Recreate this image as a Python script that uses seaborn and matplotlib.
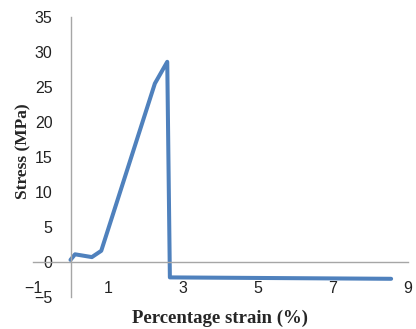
import matplotlib
matplotlib.use("Agg")
import pandas as pd
import seaborn as sns
from matplotlib import pyplot as plt

# strain (%) vs stress (MPa)
strain = [0.0, 0.12, 0.57, 0.82, 2.25, 2.58, 2.65, 8.55]
stress = [0.3, 1.1, 0.7, 1.6, 25.5, 28.6, -2.2, -2.4]

x_ticks = [-1, 1, 3, 5, 7, 9]
y_ticks = [-5, 0, 5, 10, 15, 20, 25, 30, 35]

df = pd.DataFrame({"Strain": strain, "Stress": stress})

sns.set_style("white")
plt.rcParams["font.family"] = ["Liberation Sans", "DejaVu Sans"]

fig = plt.figure(figsize=(4.16, 3.29), dpi=100)
ax = fig.add_axes([33 / 416, (329 - 297) / 329, (408 - 33) / 416, (297 - 17) / 329])

sns.lineplot(data=df, x="Strain", y="Stress", sort=False, color="#4F81BD",
             linewidth=2.9, ax=ax)

ax.set_xlim(-1, 9)
ax.set_ylim(-5, 35)
ax.set_xticks(x_ticks)
ax.set_yticks(y_ticks)

for s in ["top", "right"]:
    ax.spines[s].set_visible(False)
ax.spines["left"].set_position(("data", 0))
ax.spines["bottom"].set_position(("data", 0))
for s in ["left", "bottom"]:
    ax.spines[s].set_color("#a6a6a6")
    ax.spines[s].set_linewidth(1.0)

ax.tick_params(axis="y", length=0, pad=13, labelsize=11.5, colors="#222222")
ax.tick_params(axis="x", length=0, pad=14, labelsize=11.5, colors="#222222")

ax.set_xlabel("Percentage strain (%)", family="Liberation Serif", fontweight="bold",
              fontsize=13.5)
ax.set_ylabel("Stress (MPa)", family="Liberation Serif", fontweight="bold",
              fontsize=12.5)
ax.xaxis.set_label_coords(0.50, -0.045)
ax.yaxis.set_label_coords(-0.005, 0.52)

fig.savefig("out.png", dpi=100)
